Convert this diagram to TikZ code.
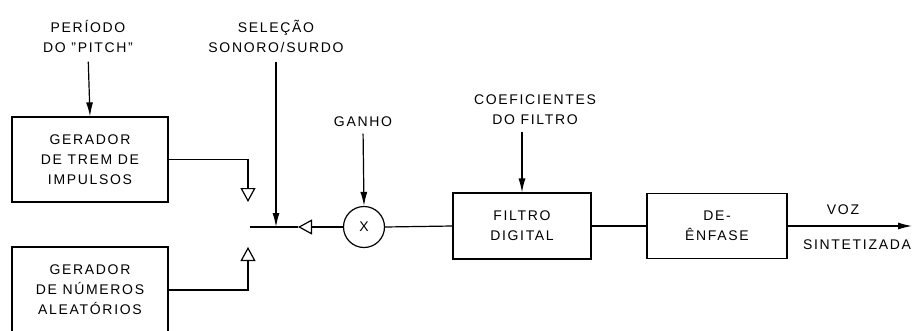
\documentclass[tikz,border=0pt]{standalone}
\usepackage{fontspec}
\setmainfont{Liberation Sans}[LetterSpace=12]
\usetikzlibrary{arrows.meta,positioning}

\begin{document}
\begin{tikzpicture}[
  x=1pt, y=-1pt,
  font=\fontsize{14}{20}\selectfont,
  line width=1.2pt,
  block/.style={draw, align=center, inner sep=0pt},
  lbl/.style={align=center, inner sep=0pt},
  sig/.style={-{Latex[length=14pt, width=7pt]}},
  contact/.style={-{Triangle[open, length=14pt, width=15pt]}}
]
\clip (0,0) rectangle (914,330);
\node[lbl] (periodo) at (88,36) {PERÍODO\\DO \symbol{34}PITCH\symbol{34}};
\node[lbl] (selecao) at (276,36) {SELEÇÃO\\SONORO/SURDO};
\node[lbl] (ganho) at (363,122) {GANHO};
\node[lbl] (coef) at (535,110) {COEFICIENTES\\DO FILTRO};
\node[block, minimum width=156pt, minimum height=85pt] (trem) at (90,159.5) {GERADOR\\DE TREM DE\\IMPULSOS};
\node[block, minimum width=156pt, minimum height=86pt] (ruido) at (90,290) {GERADOR\\DE NÚMEROS\\ALEATÓRIOS};
\node[draw, circle, minimum size=41pt, inner sep=0pt] (mult) at (364,227) {X};
\node[block, minimum width=138pt, minimum height=66pt] (filtro) at (522,226) {FILTRO\\DIGITAL};
\node[block, minimum width=140pt, minimum height=65pt] (enfase) at (717,226) {DE-\\ÊNFASE};
\node[lbl] (voz) at (843,210) {VOZ};
\node[lbl] (sint) at (857,245) {SINTETIZADA};
\coordinate (vtip) at (248,202);
\coordinate (ntip) at (248,247);
\coordinate (swl) at (250,227);
\coordinate (swr) at (298,227);
\coordinate (swin) at (276,227);
\coordinate (out) at (912,226);
% excitation switch
\draw[contact] (trem.east) -| (vtip);
\draw[contact] (ruido.east) -| (ntip);
\draw (swl) -- (swr);
\draw[contact] (mult.west) -- (swr);
\draw[sig, shorten <=9pt] (selecao.south) -- (swin);
% control inputs
\draw[sig, shorten <=9pt] (periodo.south) -- (trem.north);
\draw[sig, shorten <=6pt] (ganho.south) -- (mult.north);
\draw[sig, shorten <=6pt] (coef.south -| filtro.north) -- (filtro.north);
% main chain
\draw (mult.east) -- (filtro.west);
\draw (filtro.east) -- (enfase.west);
\draw[sig] (enfase.east) -- (out);
\end{tikzpicture}
\end{document}
